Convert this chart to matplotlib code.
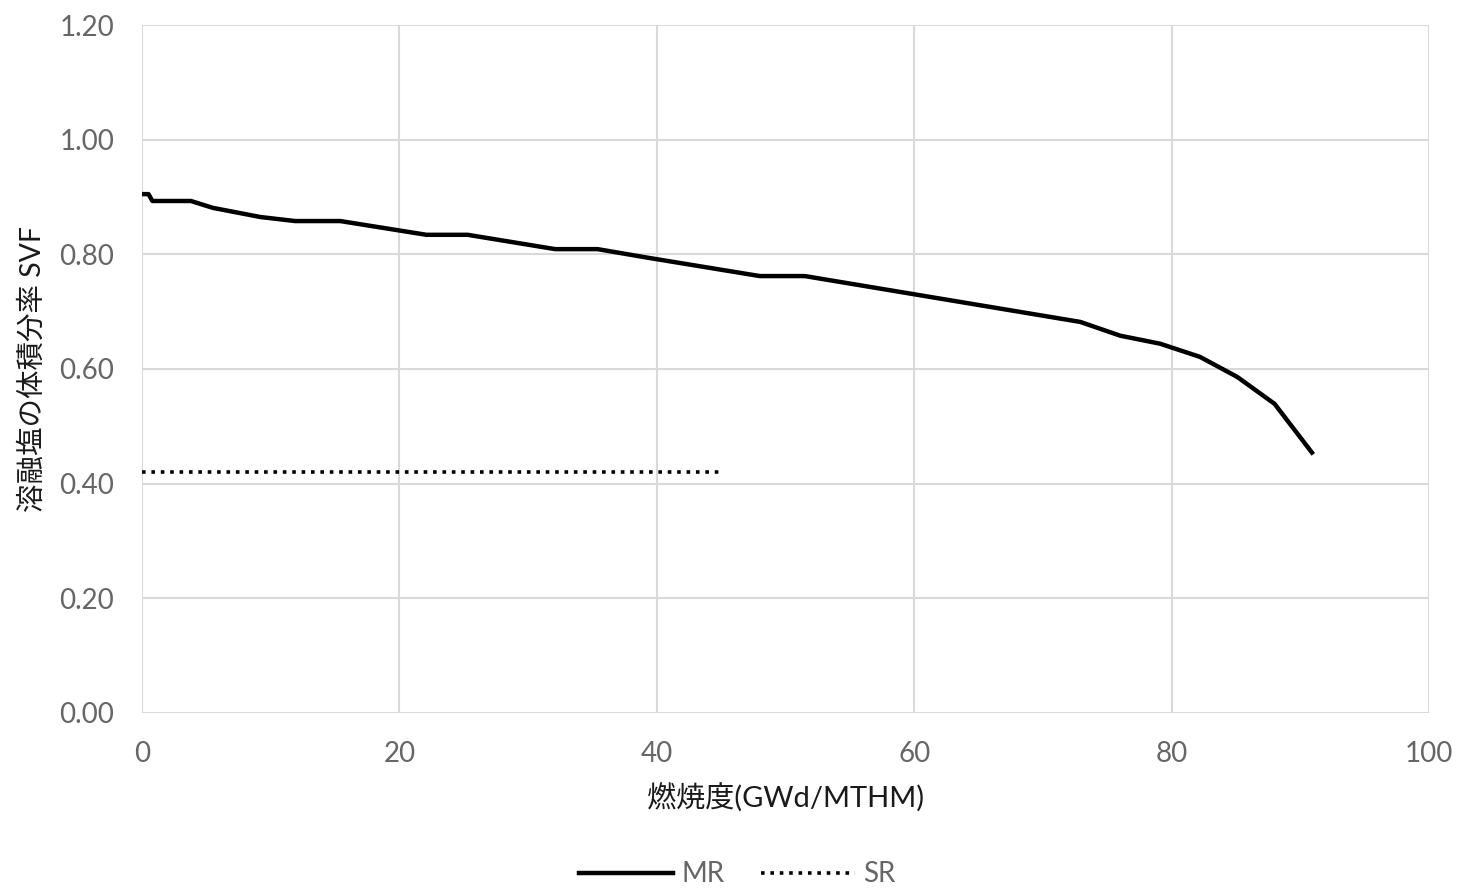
import numpy as np
import matplotlib.pyplot as plt

plt.rcParams['font.family'] = ['Lato', 'Noto Sans CJK JP', 'DejaVu Sans']

# MR: 燃焼度 (GWd/MTHM) と SVF
mr_burnup = [0.0, 0.5, 0.8, 3.8, 5.5, 9.2, 11.9, 15.4, 22.1, 25.3, 32.1, 35.4,
             39.3, 48.0, 51.5, 72.9, 76.0, 79.1, 82.2, 85.1, 88.0, 90.9]
mr_svf = [0.905, 0.905, 0.893, 0.893, 0.881, 0.865, 0.858, 0.858, 0.834, 0.834,
          0.809, 0.809, 0.794, 0.762, 0.762, 0.682, 0.658, 0.644, 0.621, 0.586,
          0.539, 0.454]

# SR
sr_burnup = [0.0, 45.0]
sr_svf = [0.42, 0.42]

xticks = [0, 20, 40, 60, 80, 100]
yticks = [0.0, 0.2, 0.4, 0.6, 0.8, 1.0, 1.2]

fig = plt.figure(figsize=(14.6, 8.91), dpi=100)
ax = fig.add_axes([0.0973, 0.2, 0.8815, 0.7719])

ax.plot(mr_burnup, mr_svf, color='black', linewidth=3.2, label='MR')
ax.plot(sr_burnup, sr_svf, color='black', linewidth=2.6, linestyle=(0, (1, 1.6)), label='SR')

ax.set_xlim(0, 100)
ax.set_ylim(0, 1.2)
ax.set_xticks(xticks)
ax.set_yticks(yticks)
ax.set_yticklabels([f'{v:.2f}' for v in yticks])
ax.grid(True, color='#d9d9d9', linewidth=1.5)
ax.set_axisbelow(True)
for s in ax.spines.values():
    s.set_visible(False)
ax.tick_params(length=0, labelsize=20, colors='#666666', pad=20)
ax.tick_params(axis='x', pad=20)

ax.set_xlabel('燃焼度(GWd/MTHM)', fontsize=21, color='#1a1a1a', labelpad=12)
ax.set_ylabel('溶融塩の体積分率 SVF', fontsize=20.5, color='#1a1a1a', labelpad=10)

fig.legend(loc='lower center', bbox_to_anchor=(0.505, -0.024), ncol=2, frameon=False,
           fontsize=20, labelcolor='#666666', handlelength=3.4, handletextpad=0.3,
           columnspacing=1.3)

fig.savefig('out.png', dpi=100)
